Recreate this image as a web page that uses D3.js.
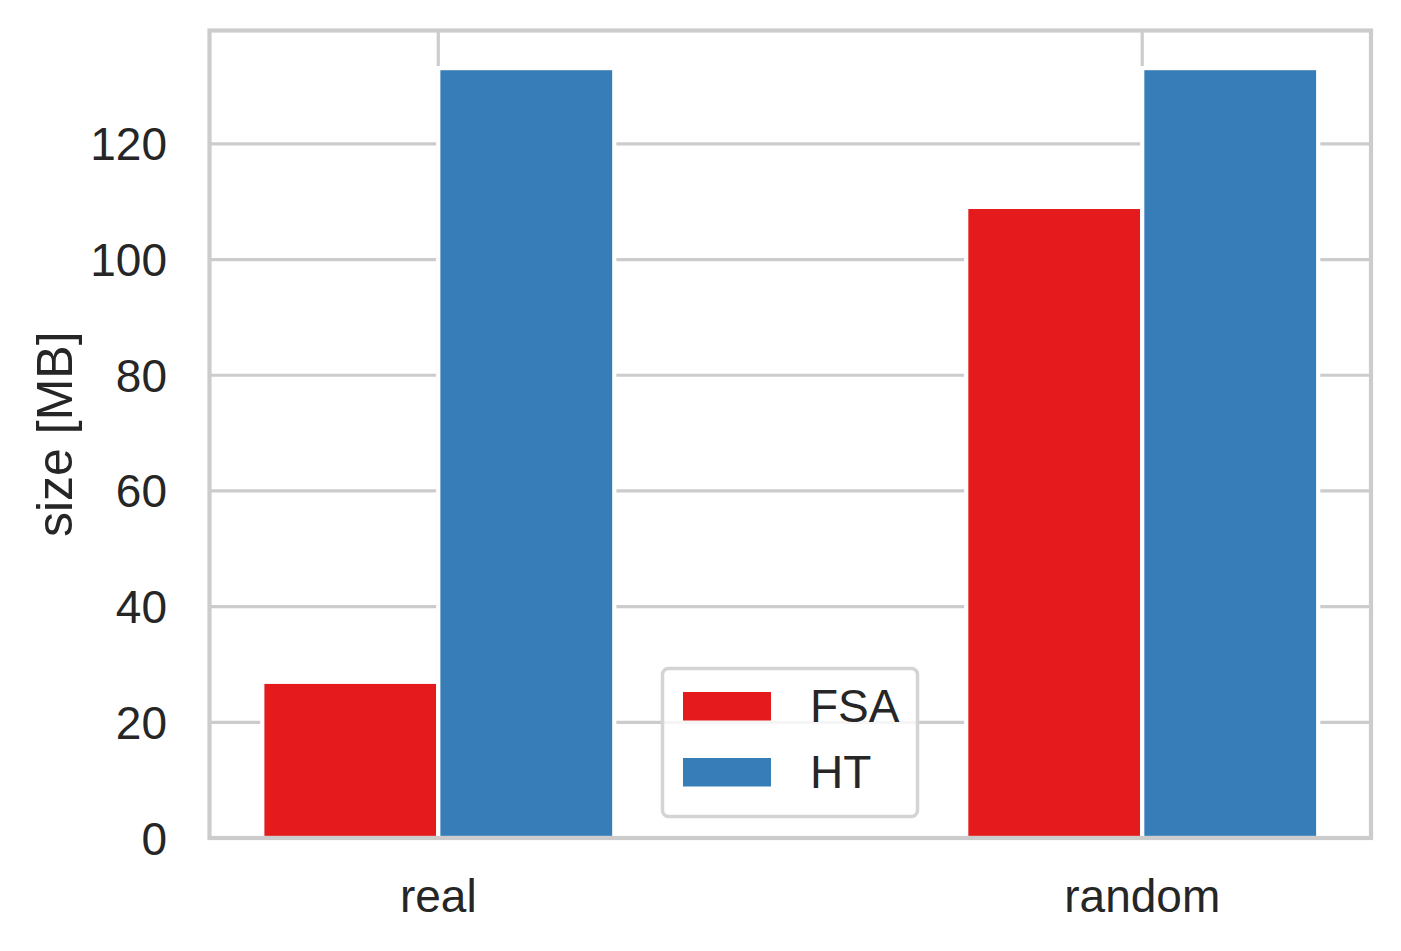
<!DOCTYPE html>
<html>
<head>
<meta charset="utf-8">
<script src="https://cdn.jsdelivr.net/npm/d3@7"></script>
<style>
  html, body { margin: 0; padding: 0; background: #fff; }
  svg { display: block; }
  text { font-family: Arial, "Liberation Sans", Helvetica, sans-serif; fill: #262626; }
</style>
</head>
<body>
<svg id="chart" width="1401" height="951"></svg>
<script>
const categories = ["real", "random"];
const seriesNames = ["FSA", "HT"];
const fsaValues = [27.0, 109.1];
const htValues = [133.1, 133.1];
const yTicks = [0, 20, 40, 60, 80, 100, 120];
const colors = ["#e41a1c", "#377eb8"];

(function () {
const svg = d3.select("#chart");
const pLeft = 209.5, pRight = 1371, pTop = 30.5, pBottom = 838;

const x = d3.scaleLinear().domain([-0.325, 1.325]).range([pLeft, pRight]);
const y = d3.scaleLinear().domain([0, 139.6]).range([pBottom, pTop]);
const barW = 0.25;
const gridColor = "#cccccc";

// horizontal gridlines
svg.append("g").selectAll("line").data(yTicks).join("line")
  .attr("x1", pLeft).attr("x2", pRight)
  .attr("y1", d => y(d)).attr("y2", d => y(d))
  .attr("stroke", gridColor).attr("stroke-width", 3.2);

// vertical gridlines
svg.append("g").selectAll("line").data(categories).join("line")
  .attr("x1", (d, i) => x(i)).attr("x2", (d, i) => x(i))
  .attr("y1", pTop).attr("y2", pBottom)
  .attr("stroke", gridColor).attr("stroke-width", 3.2);

// bars
const series = [fsaValues, htValues];
series.forEach((vals, s) => {
  svg.append("g").selectAll("rect").data(vals).join("rect")
    .attr("x", (d, i) => x(i - barW + s * barW))
    .attr("width", x(barW) - x(0))
    .attr("y", d => y(d))
    .attr("height", d => y(0) - y(d))
    .attr("fill", colors[s])
    .attr("stroke", "#ffffff")
    .attr("stroke-width", 4.2);
});

// frame
svg.append("rect")
  .attr("x", pLeft).attr("y", pTop)
  .attr("width", pRight - pLeft).attr("height", pBottom - pTop)
  .attr("fill", "none").attr("stroke", gridColor).attr("stroke-width", 4.2);

// y tick labels
svg.append("g").selectAll("text").data(yTicks).join("text")
  .attr("x", 167).attr("y", d => y(d))
  .attr("dy", "0.36em")
  .attr("text-anchor", "end")
  .attr("font-size", 46)
  .text(d => d);

// x tick labels
svg.append("g").selectAll("text").data(categories).join("text")
  .attr("x", (d, i) => x(i)).attr("y", 912)
  .attr("text-anchor", "middle")
  .attr("font-size", 46)
  .text(d => d);

// y label
svg.append("text")
  .attr("transform", `translate(72, ${(pTop + pBottom) / 2}) rotate(-90)`)
  .attr("text-anchor", "middle")
  .attr("font-size", 50)
  .text("size [MB]");

// legend
const lg = svg.append("g");
lg.append("rect")
  .attr("x", 662.5).attr("y", 668.5).attr("width", 255).attr("height", 148)
  .attr("rx", 6).attr("ry", 6)
  .attr("fill", "#ffffff").attr("fill-opacity", 0.8)
  .attr("stroke", "#d4d4d4").attr("stroke-width", 3.5);
seriesNames.forEach((name, s) => {
  lg.append("rect")
    .attr("x", 683).attr("y", 692 + s * 66)
    .attr("width", 88).attr("height", 28.5)
    .attr("fill", colors[s]);
  lg.append("text")
    .attr("x", 810).attr("y", 722 + s * 65.5)
    .attr("font-size", 46)
    .text(name);
});
})();
</script>
</body>
</html>
